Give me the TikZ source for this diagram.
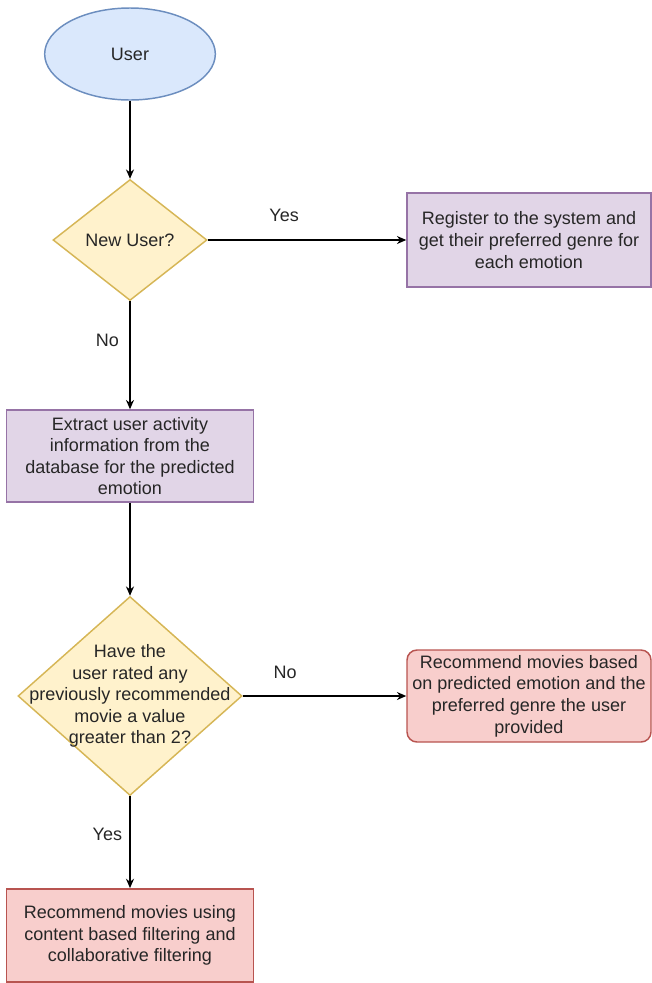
\documentclass[tikz,border=0pt]{standalone}
\usepackage{fontspec}
\setmainfont{Liberation Sans}
\usepackage{xcolor}
\usetikzlibrary{arrows.meta,positioning,shapes.geometric}
\definecolor{userfill}{HTML}{DAE8FC}
\definecolor{userline}{HTML}{6C8EBF}
\definecolor{askfill}{HTML}{FFF2CC}
\definecolor{askline}{HTML}{D6B656}
\definecolor{stepfill}{HTML}{E1D5E7}
\definecolor{stepline}{HTML}{9673A6}
\definecolor{recfill}{HTML}{F8CECC}
\definecolor{recline}{HTML}{B85450}

\begin{document}
\begin{tikzpicture}[
  x=0.75pt, y=-0.75pt,
  every node/.style={font=\fontsize{13.5}{16.2}\selectfont, text=black!85},
  start/.style={ellipse, draw=userline, fill=userfill, line width=1.1pt, minimum width=128pt, minimum height=69pt},
  decision/.style={diamond, draw=askline, fill=askfill, line width=1.1pt, inner sep=0pt, align=center},
  stepbox/.style={draw=stepline, fill=stepfill, line width=1.1pt, align=center, minimum width=185pt, minimum height=69pt},
  recbox/.style={draw=recline, fill=recfill, line width=1.1pt, align=center, minimum width=185pt, minimum height=69pt},
  arrow/.style={-{Stealth[length=7pt,width=6pt]}, line width=1.1pt},
  tag/.style={inner sep=1pt}
]
\useasboundingbox (0,0) rectangle (652,983);
\node[start] (user) at (130,54) {User};
\node[decision, minimum width=115.5pt, minimum height=90.75pt] (newuser) at (130,240) {New User?};
\node[stepbox, minimum width=183pt, minimum height=70.5pt] (register) at (529,240) {Register to the system and\\get their preferred genre for\\each emotion};
\node[stepbox] (extract) at (130,456) {Extract user activity\\information from the\\database for the predicted\\emotion};
\node[decision, minimum width=168pt, minimum height=149.25pt,
  label={[align=center]center:Have the\\user rated any\\previously recommended\\movie a value\\greater than 2?}] (rated) at (130,696) {};
\node[recbox, rounded corners=7.5pt, minimum width=183pt] (genrerec) at (529,696) {Recommend movies based\\on predicted emotion and the\\preferred genre the user\\provided};
\node[recbox, minimum height=70pt] (hybridrec) at (130,935.5) {Recommend movies using\\content based filtering and\\collaborative filtering};

\draw[arrow] (user) -- (newuser);
\draw[arrow] (newuser) -- node[tag, pos=0.385, yshift=18.5pt] {Yes} (register);
\draw[arrow] (newuser) -- node[tag, pos=0.36, xshift=-17pt] {No} (extract);
\draw[arrow] (extract) -- (rated);
\draw[arrow] (rated) -- node[tag, pos=0.26, yshift=18pt] {No} (genrerec);
\draw[arrow] (rated) -- node[tag, pos=0.41, xshift=-17pt] {Yes} (hybridrec);
\end{tikzpicture}
\end{document}
